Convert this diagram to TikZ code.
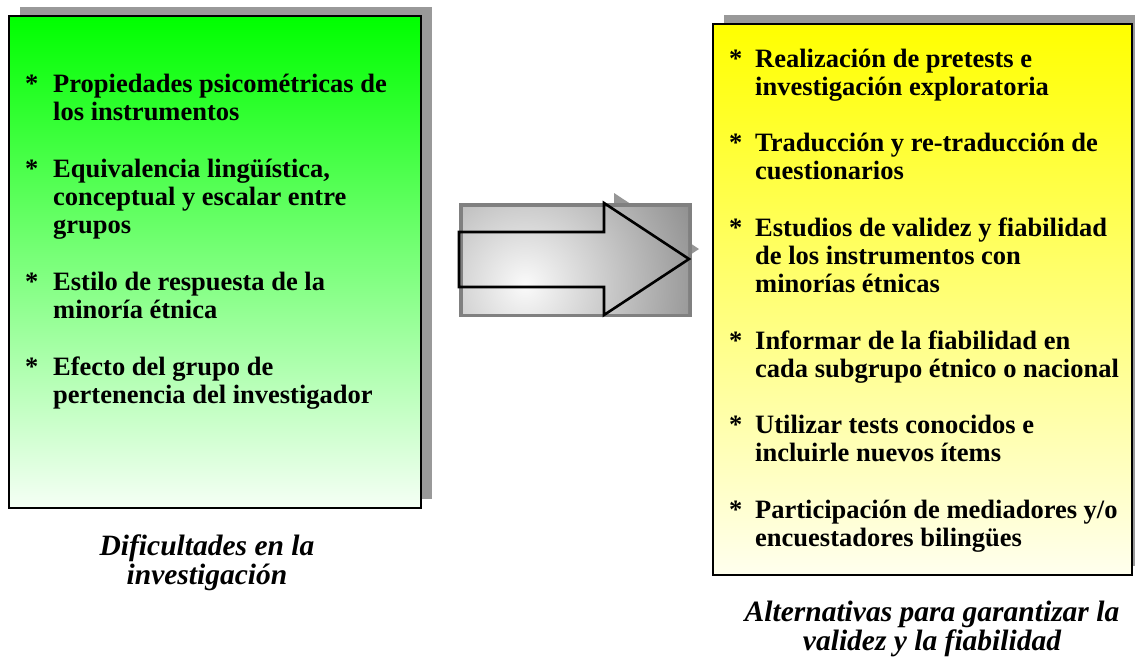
\documentclass[tikz,border=0pt]{standalone}
\usepackage{fontspec}
\setmainfont{Liberation Serif}
\definecolor{shadowgray}{RGB}{153,153,153}
\definecolor{arrowshadow}{RGB}{150,150,150}
\definecolor{bevelgray}{RGB}{128,128,128}
\definecolor{bevelout}{RGB}{140,140,140}
\definecolor{bevelin}{RGB}{250,250,250}
\definecolor{greentop}{RGB}{0,255,0}
\definecolor{greenbot}{RGB}{245,255,245}
\definecolor{yellowtop}{RGB}{255,255,0}
\definecolor{yellowbot}{RGB}{255,255,238}
\newcommand{\leftlines}[1]{\begin{tabular}[t]{@{}l@{}}#1\end{tabular}}
\newcommand{\centerlines}[1]{\begin{tabular}[t]{@{}c@{}}#1\end{tabular}}
\begin{document}
\begin{tikzpicture}[x=1pt,y=-1pt,
  shadowbox/.style={rectangle, fill=shadowgray, draw=none, inner sep=0},
  framebox/.style={rectangle, draw=black, line width=2.6pt, inner sep=0},
  itemtext/.style={anchor=base west, inner sep=0,
    font=\bfseries\fontsize{26.5}{28}\selectfont},
  bullet/.style={anchor=base west, inner sep=0, font=\bfseries\fontsize{26.5}{28}\selectfont},
  caption/.style={anchor=base, inner sep=0,
    font=\bfseries\itshape\fontsize{29.5}{29}\selectfont},
  arrowline/.style={draw=black, line width=2.6pt, line join=miter},
]
\useasboundingbox (0,0) rectangle (1135,657);
\fill[white] (0,0) rectangle (1135,657);

% ---------- left box ----------
\node[shadowbox, minimum width=412pt, minimum height=492pt] (Ls) at (226,253) {};
\node[framebox, minimum width=412pt, minimum height=492pt,
  top color=greentop, bottom color=greenbot] (L) at (215,262) {};

\node[bullet] (ls1) at (25,92) {*};
\node[itemtext] (l1) at (53,92) {\leftlines{Propiedades psicométricas de\\los instrumentos}};
\node[bullet] (ls2) at (25,177) {*};
\node[itemtext] (l2) at (53,177) {\leftlines{Equivalencia lingüística,\\conceptual y escalar entre\\grupos}};
\node[bullet] (ls3) at (25,290) {*};
\node[itemtext] (l3) at (53,290) {\leftlines{Estilo de respuesta de la\\minoría étnica}};
\node[bullet] (ls4) at (25,375) {*};
\node[itemtext] (l4) at (53,375) {\leftlines{Efecto del grupo de\\pertenencia del investigador}};

\node[caption] (lc) at (207,555) {\centerlines{Dificultades en la\\investigación}};

% ---------- right box ----------
\node[shadowbox, minimum width=419pt, minimum height=551pt] (Rs) at (933.5,290.5) {};
\node[framebox, minimum width=419pt, minimum height=551pt,
  top color=yellowtop, bottom color=yellowbot] (R) at (922.5,299.5) {};

\node[bullet] (rs1) at (729,67) {*};
\node[itemtext] (r1) at (755,67) {\leftlines{Realización de pretests e\\investigación exploratoria}};
\node[bullet] (rs2) at (729,151) {*};
\node[itemtext] (r2) at (755,151) {\leftlines{Traducción y re-traducción de\\cuestionarios}};
\node[bullet] (rs3) at (729,236) {*};
\node[itemtext] (r3) at (755,236) {\leftlines{Estudios de validez y fiabilidad\\de los instrumentos con\\minorías étnicas}};
\node[bullet] (rs4) at (729,349) {*};
\node[itemtext] (r4) at (755,349) {\leftlines{Informar de la fiabilidad en\\cada subgrupo étnico o nacional}};
\node[bullet] (rs5) at (729,433) {*};
\node[itemtext] (r5) at (755,433) {\leftlines{Utilizar tests conocidos e\\incluirle nuevos ítems}};
\node[bullet] (rs6) at (729,518) {*};
\node[itemtext] (r6) at (755,518) {\leftlines{Participación de mediadores y/o\\encuestadores bilingües}};

\node[caption] (rc) at (932,621) {\centerlines{Alternativas para garantizar la\\validez y la fiabilidad}};

% ---------- arrow ----------
\fill[arrowshadow] (469,222) -- (614,222) -- (614,193) -- (699,249) -- (614,305) -- (614,277) -- (469,277) -- cycle;
\fill[bevelgray] (459,203) rectangle (692,317);
\begin{scope}
  \clip (463,207) rectangle (688,313);
  \shade[inner color=bevelin, outer color=bevelout] (525,285) circle (190);
\end{scope}
\draw[arrowline] (459,232) -- (604,232) -- (604,203) -- (689,259) -- (604,315) -- (604,287) -- (459,287) -- cycle;
\end{tikzpicture}
\end{document}
